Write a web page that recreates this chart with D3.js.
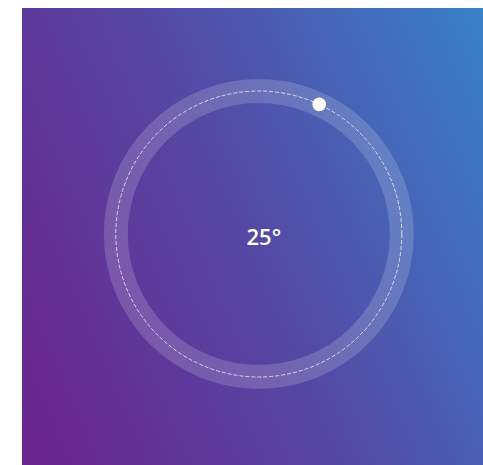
<!DOCTYPE html>
<html>
<head>
<meta charset="utf-8">
<script src="https://cdn.jsdelivr.net/npm/d3@7"></script>
<style>
  html, body { margin: 0; padding: 0; background: #fff; }
  #part { width: 483px; height: 465px; }
</style>
</head>
<body>
<div id="part"></div>
<script>

// dial data
var values = [25];
var unit = ["°"];
var domain = [0, 360];

var width = document.getElementById("part").offsetWidth,
    height = document.getElementById("part").offsetHeight;

var svg = d3.select("#part").append("svg")
    .attr("width", width)
    .attr("height", height);

// background gradient, purple bottom-left to blue top-right
var defs = svg.append("defs");
var grad = defs.append("linearGradient")
    .attr("id", "bg")
    .attr("x1", "-10.3%").attr("y1", "75.9%")
    .attr("x2", "110.3%").attr("y2", "24.1%");
grad.append("stop").attr("offset", "0%").attr("stop-color", "#6b228d");
grad.append("stop").attr("offset", "50%").attr("stop-color", "#5449a4");
grad.append("stop").attr("offset", "100%").attr("stop-color", "#3881c9");

svg.append("rect")
    .attr("x", 22)
    .attr("y", 8)
    .attr("width", width - 22)
    .attr("height", height - 8)
    .attr("fill", "url(#bg)");

var cx = 258.8, cy = 234, r = 143;

var g = svg.append("g").attr("transform", "translate(" + cx + "," + cy + ")");

// angle scale, 0 at the top, clockwise
var angle = d3.scaleLinear().domain(domain).range([0, 2 * Math.PI]);

// translucent ring
g.append("circle")
    .attr("r", r)
    .attr("fill", "none")
    .attr("stroke", "#fff")
    .attr("stroke-opacity", 0.17)
    .attr("stroke-width", 24);

// dashed track
g.append("circle")
    .attr("r", r)
    .attr("fill", "none")
    .attr("stroke", "#fff")
    .attr("stroke-opacity", 0.9)
    .attr("stroke-width", 0.8)
    .attr("stroke-dasharray", "4,2");

// knob
g.selectAll(".knob")
    .data(values)
    .enter().append("circle")
    .attr("class", "knob")
    .attr("cx", function(d){ return r * Math.sin(angle(d)); })
    .attr("cy", function(d){ return -r * Math.cos(angle(d)); })
    .attr("r", 6.8)
    .attr("fill", "#fff");

// label
var label = g.selectAll(".label")
    .data(values)
    .enter().append("text")
    .attr("class", "label")
    .attr("x", 5)
    .attr("y", 11)
    .attr("text-anchor", "middle")
    .style("font-family", "'Open Sans', sans-serif")
    .style("font-size", "22px")
    .style("font-weight", 600)
    .style("fill", "#fff")
    .text(function(d){ return d + unit[0]; });

</script>
</body>
</html>
